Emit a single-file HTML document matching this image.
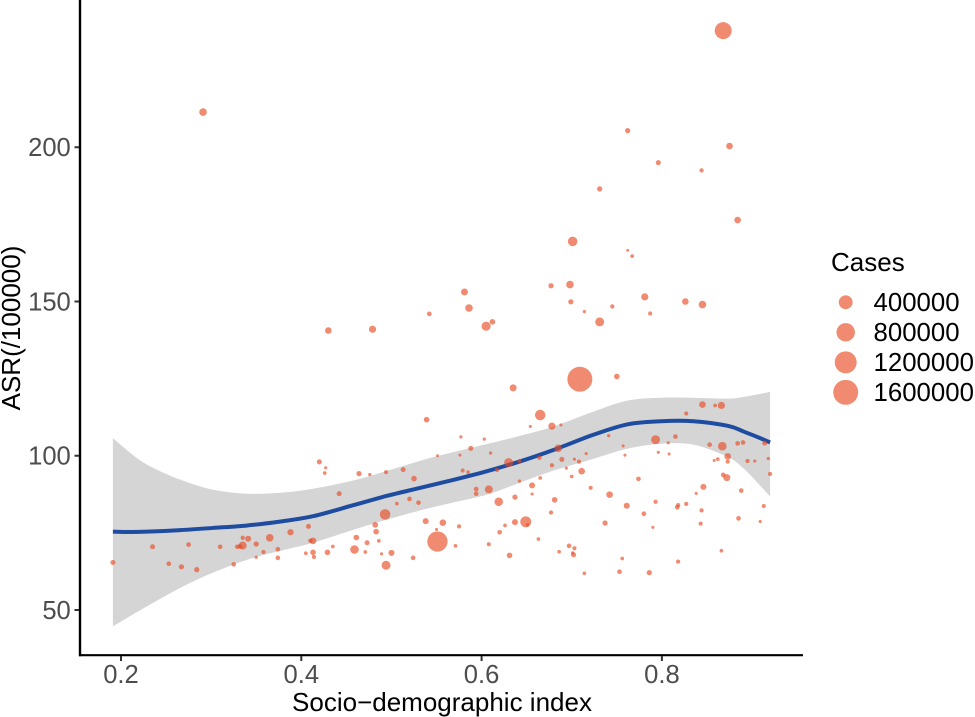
<!DOCTYPE html>
<html lang="en">
<head>
<meta charset="utf-8">
<title>ASR vs Socio-demographic index</title>
<style>
html,body{margin:0;padding:0;background:#fff;}
svg{display:block;font-family:"Liberation Sans",Arial,sans-serif;}
</style>
</head>
<body>
<svg id="chart" width="975" height="717" viewBox="0 0 975 717" xmlns="http://www.w3.org/2000/svg">
  <rect x="0" y="0" width="975" height="717" fill="#ffffff"/>
  <g id="band-layer"></g>
  <g id="line-layer"></g>
  <g id="point-layer"></g>
  <g id="axis-layer"></g>
  <text x="442" y="711" font-size="26" fill="#000" text-anchor="middle">Socio−demographic index</text>
  <text transform="translate(20,328) rotate(-90)" font-size="26" fill="#000" text-anchor="middle">ASR(/100000)</text>
  <text x="831" y="271" font-size="26" fill="#000">Cases</text>
  <g id="legend-layer"></g>
</svg>
<script>
const xTicks = [0.2, 0.4, 0.6, 0.8];
const yTicks = [50, 100, 150, 200];
const legendBreaks = [400000, 800000, 1200000, 1600000];

const sdi = [
.191,.235,.275,.253,.267,.284,.310,.325,.335,.341,
.329,.332,.335,.350,.365,.350,.358,.374,.374,.388,
.408,.410,.413,.413,.405,.414,.429,.420,.427,.426,
.539,.464,.476,.494,.513,.525,.442,.506,.520,.530,
.493,.482,.483,.461,.473,.486,.435,.459,.471,.489,
.500,.494,.524,.538,.557,.550,.575,.551,.571,.577,
.603,.588,.551,.576,.610,.579,.585,.630,.642,.617,
.594,.594,.608,.619,.608,.620,.626,.637,.649,.651,
.637,.642,.656,.656,.665,.664,.678,.685,.689,.694,
.678,.688,.654,.681,.677,.663,.686,.697,.631,.709,
.845,.859,.866,.827,.741,.793,.815,.807,.757,.796,
.808,.759,.853,.867,.884,.890,.914,.873,.858,.862,
.873,.895,.903,.918,.920,.703,.708,.716,.700,.711,
.721,.742,.774,.761,.793,.780,.737,.790,.817,.818,
.827,.838,.846,.868,.872,.888,.844,.843,.913,.885,
.909,.866,.818,.756,.753,.786,.714,.703,.701,.702,
.868,.762,.875,.796,.844,.731,.884,.701,.762,.767,
.677,.698,.699,.714,.745,.781,.787,.826,.845,.731,
.750,.430,.479,.542,.581,.586,.605,.612,.635,.665,
.291
];
const asr = [
65.4,70.5,71.2,65.0,64.0,63.1,70.5,64.8,73.4,73.1,
70.5,70.6,70.9,71.4,73.4,67.1,68.8,69.7,66.9,75.2,
77.1,72.5,72.4,68.7,68.4,67.2,68.7,98.0,96.1,94.4,
111.7,94.2,93.9,94.7,95.5,92.6,87.7,84.5,86.0,84.8,
81.0,77.6,75.4,73.5,71.8,72.4,70.6,69.6,68.8,68.2,
68.5,64.5,66.9,78.8,78.3,76.1,77.1,72.2,70.8,106.1,
105.4,102.4,100.0,100.2,100.9,95.2,94.7,97.8,98.3,95.4,
89.2,87.7,89.1,85.1,71.3,75.2,77.4,78.5,78.6,77.6,
86.6,91.8,90.4,87.6,92.8,99.4,96.9,102.4,98.8,96.0,
109.6,110.0,109.5,85.7,81.6,73.0,68.9,70.8,67.7,124.8,
116.6,116.3,116.3,113.7,106.5,105.2,106.2,104.2,103.2,101.1,
100.6,100.2,103.6,103.1,104.0,104.3,104.1,99.8,98.5,98.9,
98.1,98.3,98.3,99.1,94.1,98.9,98.1,100.7,93.3,95.0,
89.6,87.4,92.5,83.8,85.1,81.2,78.2,76.8,83.3,84.0,
84.4,87.8,89.9,93.8,92.9,88.7,82.3,78.0,83.7,79.7,
78.7,69.2,65.7,66.7,62.4,62.1,61.9,70.0,68.5,67.9,
237.8,205.4,200.4,195.0,192.5,186.5,176.4,169.5,166.6,164.7,
155.1,155.5,149.9,146.7,148.4,151.5,146.1,150.0,149.0,143.4,
125.7,140.6,141.0,146.0,153.1,147.9,142.0,143.4,122.0,113.2,
211.4
];
const cases = [
17700,17700,12300,12300,20800,20800,12300,12300,7900,35600,
12300,12300,89700,20800,76900,1100,7900,12300,12300,39900,
17700,7900,49200,27700,3100,6000,27700,17700,500,3100,
27700,20800,1100,6000,17700,27700,17700,3100,12300,12300,
197000,27700,27700,27700,17700,3100,3100,110800,3100,500,
35600,126000,12300,35600,49200,500,7900,997000,3100,1100,
1100,17700,200,200,1100,6000,3100,126000,6000,6000,
12300,12300,89700,110800,6000,12300,3100,35600,217000,1100,
20800,1100,35600,500,3100,12300,7900,76900,17700,500,
65100,500,500,27700,7900,3100,3100,12300,27700,1600000,
49200,3100,65100,6000,1100,126000,12300,500,500,500,
500,500,12300,110800,12300,12300,17700,49200,500,3100,
6000,7900,1100,1100,6000,500,7900,500,3100,49200,
6000,49200,12300,35600,7900,12300,20800,500,12300,7900,
7900,500,35600,12300,59600,12300,7900,6000,6000,12300,
500,3100,7900,3100,12300,20800,3100,6000,1100,17700,
656000,20800,49200,17700,7900,20800,49200,150800,200,3100,
20800,76900,20800,1100,7900,65100,7900,49200,76900,126000,
27700,49200,65100,12300,59600,76900,134000,27700,59600,197000,
76900
];

const smoothX = [
.191,.210,.229,.266,.302,.340,.377,.413,.458,.495,.532,.569,
.606,.643,.680,.724,.762,.799,.835,.873,.891,.910,.920
];
const smoothY = [
75.4,75.3,75.4,75.9,76.6,77.4,78.7,80.4,84.0,87.0,89.6,92.2,
95.0,98.2,101.9,106.8,110.2,111.2,111.2,109.7,107.8,105.6,104.3
];
const smoothUpper = [
105.7,101.0,97.1,92.2,89.0,87.7,88.0,89.3,92.0,95.1,98.4,101.2,
103.8,106.5,109.5,114.3,117.9,118.8,118.8,118.5,119.1,120.1,120.7
];
const smoothLower = [
44.7,48.0,51.2,57.2,62.1,66.3,69.2,71.8,76.0,79.3,82.3,84.9,
87.4,91.3,95.2,99.0,102.3,103.9,103.6,99.6,95.8,90.0,86.8
];

const SVG_NS = 'http://www.w3.org/2000/svg';
function xScale(v) { return 121 + (v - 0.2) * 901.5; }
function yScale(v) { return 610 - (v - 50) * 3.085; }
function sizeScale(c) { return 1.35 + 2.78 * Math.sqrt(c / 100000); }

function make(tag, attrs) {
  const el = document.createElementNS(SVG_NS, tag);
  Object.keys(attrs).forEach(function (k) { el.setAttribute(k, attrs[k]); });
  return el;
}
function curveThrough(pts, startWithMove) {
  let d = (startWithMove ? 'M' : 'L') + pts[0][0].toFixed(2) + ' ' + pts[0][1].toFixed(2);
  for (let i = 0; i < pts.length - 1; i++) {
    const p0 = pts[Math.max(i - 1, 0)], p1 = pts[i], p2 = pts[i + 1], p3 = pts[Math.min(i + 2, pts.length - 1)];
    const c1x = p1[0] + (p2[0] - p0[0]) / 6, c1y = p1[1] + (p2[1] - p0[1]) / 6;
    const c2x = p2[0] - (p3[0] - p1[0]) / 6, c2y = p2[1] - (p3[1] - p1[1]) / 6;
    d += 'C' + c1x.toFixed(2) + ' ' + c1y.toFixed(2) + ' ' + c2x.toFixed(2) + ' ' + c2y.toFixed(2) + ' ' + p2[0].toFixed(2) + ' ' + p2[1].toFixed(2);
  }
  return d;
}

const POINT_FILL = '#e8481f';
const POINT_OPACITY = 0.64;

const upperPts = smoothX.map(function (x, i) { return [xScale(x), yScale(smoothUpper[i])]; });
const lowerPts = smoothX.map(function (x, i) { return [xScale(x), yScale(smoothLower[i])]; }).reverse();
const band = make('path', { d: curveThrough(upperPts, true) + curveThrough(lowerPts, false) + 'Z', fill: '#d5d5d5' });


document.getElementById('band-layer').appendChild(band);

const linePts = smoothX.map(function (x, i) { return [xScale(x), yScale(smoothY[i])]; });
const line = make('path', { d: curveThrough(linePts, true), fill: 'none', stroke: '#1d4ca0', 'stroke-width': 4 });


document.getElementById('line-layer').appendChild(line);

const pointLayer = document.getElementById('point-layer');
sdi.forEach(function (x, i) {
  const c = make('circle', {
    cx: xScale(x).toFixed(2),
    cy: yScale(asr[i]).toFixed(2),
    r: sizeScale(cases[i]).toFixed(2),
    fill: POINT_FILL,
    'fill-opacity': POINT_OPACITY
  });
  
  
  pointLayer.appendChild(c);
});

const axisLayer = document.getElementById('axis-layer');
const yAxisLine = make('line', { x1: 80, y1: 0, x2: 80, y2: 656.2, stroke: '#000', 'stroke-width': 2.4 });


axisLayer.appendChild(yAxisLine);
const xAxisLine = make('line', { x1: 79, y1: 655.2, x2: 803, y2: 655.2, stroke: '#000', 'stroke-width': 2.2 });


axisLayer.appendChild(xAxisLine);

xTicks.forEach(function (t) {
  const px = xScale(t);
  const tick = make('line', { x1: px, y1: 656, x2: px, y2: 661, stroke: '#333', 'stroke-width': 2 });
  
  
  axisLayer.appendChild(tick);
  const label = make('text', { x: px, y: 683, 'font-size': 25.6, fill: '#4d4d4d', 'text-anchor': 'middle' });
  
  
  label.textContent = t.toFixed(1);
  axisLayer.appendChild(label);
});
yTicks.forEach(function (t) {
  const py = yScale(t);
  const tick = make('line', { x1: 74.5, y1: py, x2: 79, y2: py, stroke: '#333', 'stroke-width': 2 });
  
  
  axisLayer.appendChild(tick);
  const label = make('text', { x: 70.8, y: py + 8.8, 'font-size': 25.6, fill: '#4d4d4d', 'text-anchor': 'end' });
  
  
  label.textContent = String(t);
  axisLayer.appendChild(label);
});

const legendLayer = document.getElementById('legend-layer');
legendBreaks.forEach(function (b, i) {
  const cy = 302.3 + i * 30;
  const swatch = make('circle', { cx: 845.7, cy: cy, r: sizeScale(b).toFixed(2), fill: POINT_FILL, 'fill-opacity': POINT_OPACITY });
  
  
  legendLayer.appendChild(swatch);
  const label = make('text', { x: 873.5, y: cy + 8.6, 'font-size': 25.8, fill: '#000' });
  
  
  label.textContent = String(b);
  legendLayer.appendChild(label);
});
</script>
</body>
</html>
